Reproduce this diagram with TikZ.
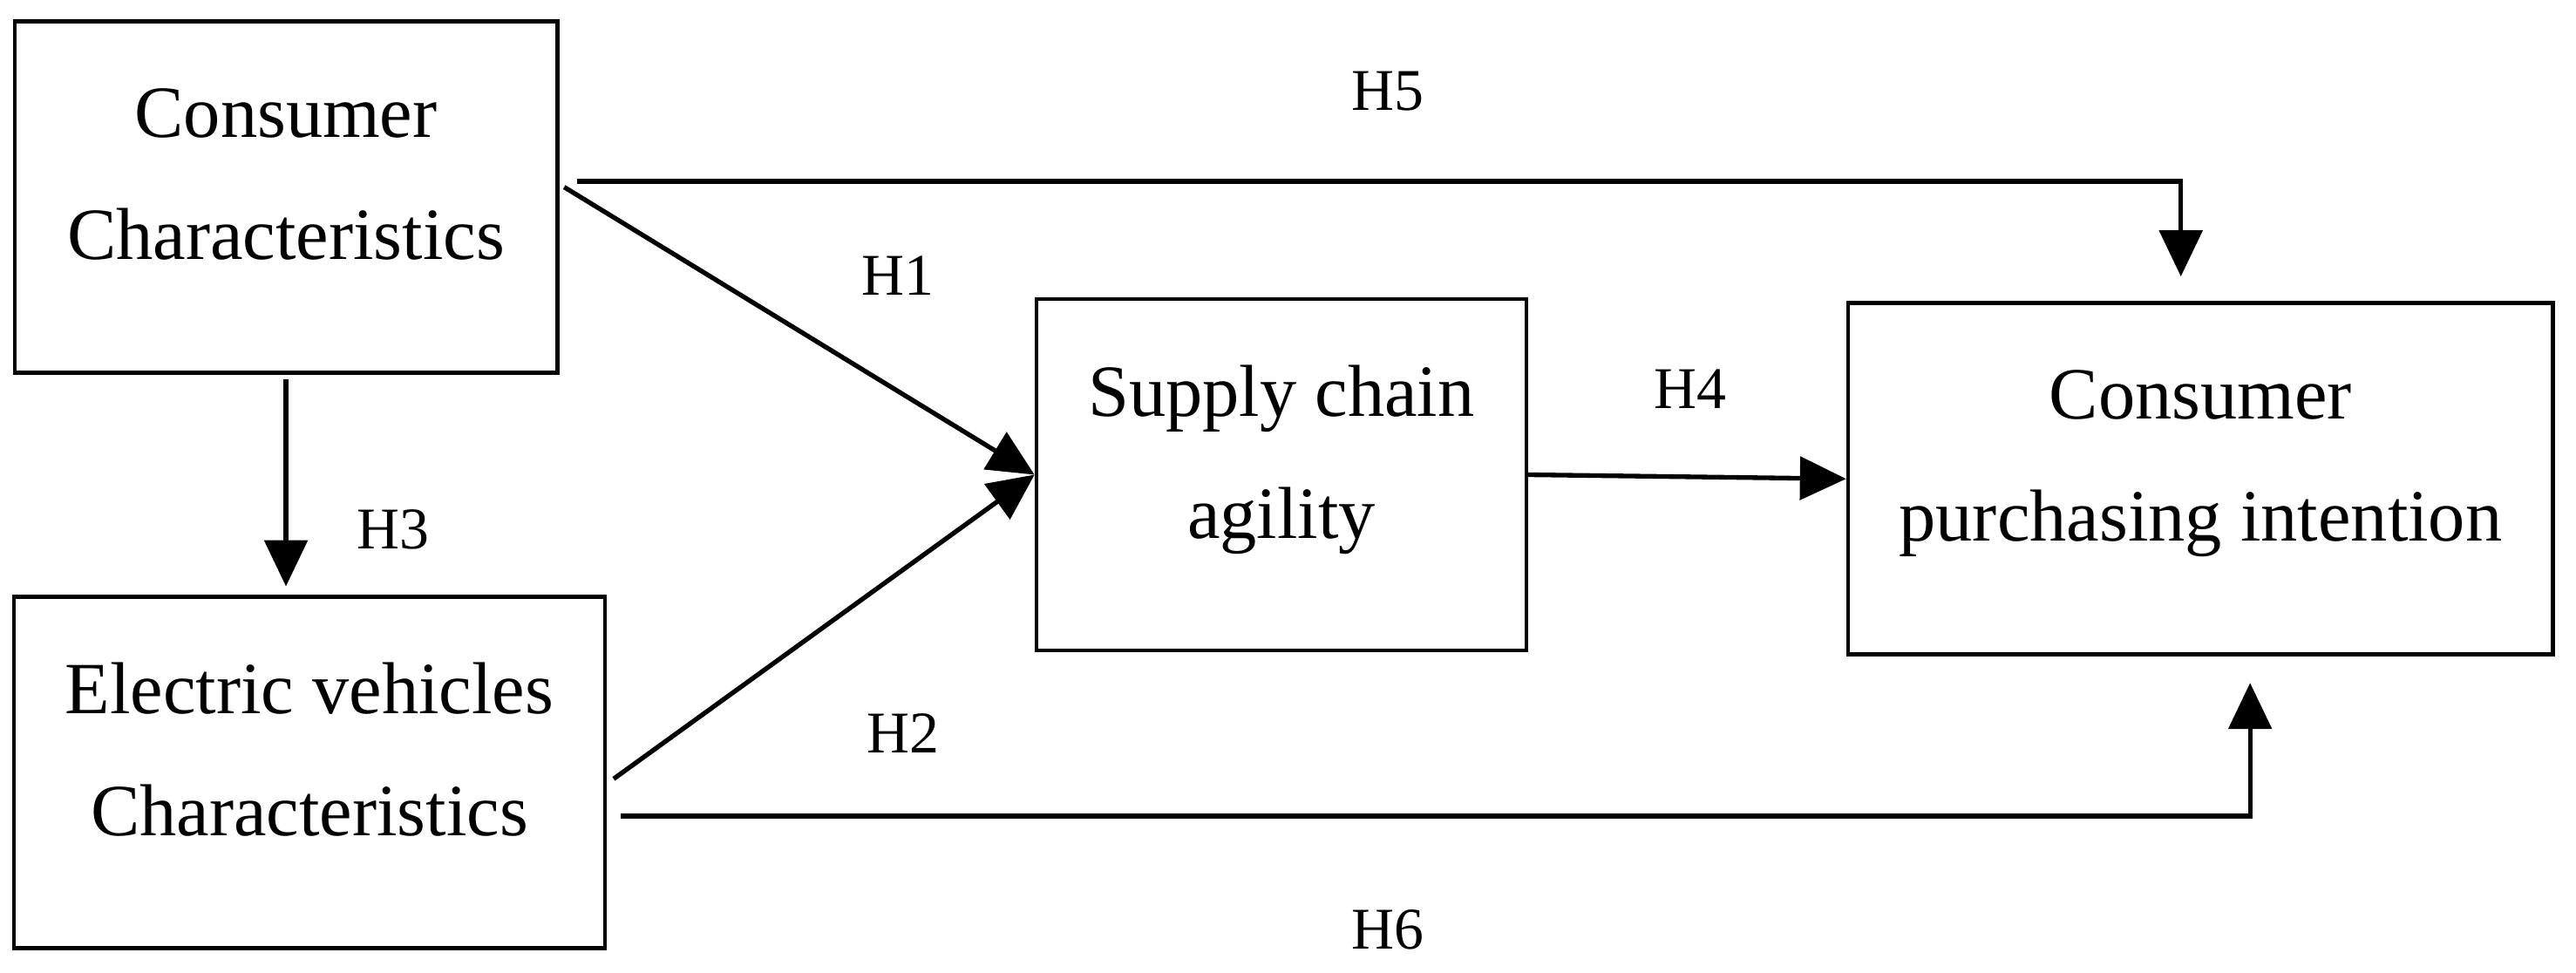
\documentclass[tikz,border=0pt]{standalone}
\usepackage{fontspec}
\setmainfont{Liberation Serif}
\usetikzlibrary{arrows.meta,calc}
\newcommand{\ls}{\rule[-8pt]{0pt}{16pt}}

\begin{document}
\begin{tikzpicture}[x=0.01cm,y=0.01cm,
		box/.style={draw, line width=0.7pt, inner sep=0pt, minimum height=2.13cm, align=center, font=\fontsize{12.7}{21}\selectfont},
		link/.style={line width=0.8pt, -{Triangle[length=0.28cm,width=0.26cm]}},
		hyp/.style={font=\fontsize{10.2}{12}\selectfont},]

\useasboundingbox (0,0) rectangle (1563,590);

\node[box, minimum width=3.29cm] (cc) at (173.5,470.5) {\ls Consumer\\\ls Characteristics};
\node[box, minimum width=3.585cm] (ev) at (187.75,121.5) {\ls Electric vehicles\\\ls Characteristics};
\node[box, minimum width=2.97cm] (sca) at (777.5,302) {\ls Supply chain\\\ls agility};
\node[box, minimum width=4.275cm] (cpi) at (1335.25,299.5) {\ls Consumer\\\ls purchasing intention};

\draw[link] ($(cc.east)+(3,6)$) -- (sca.west);
\draw[link] ($(ev.east)+(4,-4)$) -- (sca.west);
\draw[link] ($(cc.south)+(0,-3)$) -- ($(cc.south |- ev.north)+(0,5)$);
\draw[link] (sca.east) -- (cpi.west);
\draw[link] ($(cc.east)+(11,9.5)$) -| ($(cpi.north)+(-12,15)$);
\draw[link] ($(ev.east)+(8,-26.5)$) -| ($(cpi.south)+(30,-16)$);

\node[hyp] (h1) at (545,423) {H1};
\node[hyp] (h2) at (548,145) {H2};
\node[hyp] (h3) at (238.5,269) {H3};
\node[hyp] (h4) at (1025.5,354) {H4};
\node[hyp] (h5) at (842,534.5) {H5};
\node[hyp] (h6) at (842,26) {H6};
\end{tikzpicture}
\end{document}
